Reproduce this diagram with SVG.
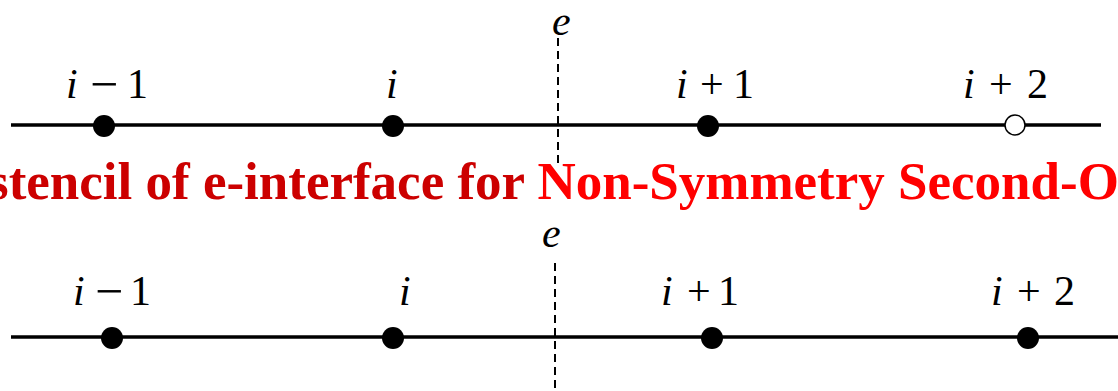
<svg xmlns="http://www.w3.org/2000/svg" width="1118" height="391" viewBox="0 0 1118 391">
<style>
.axis{stroke:#000;stroke-width:3.5;fill:none}
.dash{stroke:#000;stroke-width:2;stroke-dasharray:8 5;fill:none}
.dot{fill:#000}
.open{fill:#fff;stroke:#000;stroke-width:1.5}
.lbl{font-family:"Liberation Serif",serif;font-size:42px;fill:#000}
.it{font-style:italic}
.mn{font-size:50px}
.title{font-family:"Liberation Serif",serif;font-size:53px;font-weight:bold}
</style>
<rect width="1118" height="391" fill="#fff"/>
<g id="connectors">
  <line class="axis" x1="11" y1="125" x2="1101" y2="125"/>
  <line class="dash" x1="558" y1="38" x2="558" y2="165"/>
  <line class="axis" x1="11" y1="337" x2="1118" y2="337"/>
  <line class="dash" x1="555" y1="263" x2="555" y2="391"/>
</g>
<g id="top-e"><text class="lbl it" x="552" y="35">e</text></g>
<g id="top-im1"><circle class="dot" cx="104" cy="126" r="11"/><text class="lbl" x="66" y="98"><tspan class="it">i</tspan><tspan class="mn" x="90" y="101">−</tspan><tspan x="127" y="98">1</tspan></text></g>
<g id="top-i"><circle class="dot" cx="393" cy="126" r="11"/><text class="lbl it" x="386" y="98">i</text></g>
<g id="top-ip1"><circle class="dot" cx="708" cy="126" r="11"/><text class="lbl" x="676" y="98"><tspan class="it">i</tspan><tspan x="700">+</tspan><tspan x="733">1</tspan></text></g>
<g id="top-ip2"><circle class="open" cx="1015" cy="125" r="10"/><text class="lbl" x="963" y="98"><tspan class="it">i</tspan><tspan x="989">+</tspan><tspan x="1027">2</tspan></text></g>
<g id="title"><text class="title" x="-12" y="199"><tspan fill="#cc0000">stencil of e-interface for </tspan><tspan fill="#ff0000">Non-Symmetry Second-O</tspan></text></g>
<g id="bot-e"><text class="lbl it" x="542" y="247">e</text></g>
<g id="bot-im1"><circle class="dot" cx="112" cy="338" r="11"/><text class="lbl" x="73" y="305"><tspan class="it">i</tspan><tspan class="mn" x="95" y="308">−</tspan><tspan x="130" y="305">1</tspan></text></g>
<g id="bot-i"><circle class="dot" cx="393" cy="338" r="11"/><text class="lbl it" x="399" y="305">i</text></g>
<g id="bot-ip1"><circle class="dot" cx="712" cy="338" r="11"/><text class="lbl" x="661" y="305"><tspan class="it">i</tspan><tspan x="687">+</tspan><tspan x="718">1</tspan></text></g>
<g id="bot-ip2"><circle class="dot" cx="1028" cy="338" r="11"/><text class="lbl" x="991" y="305"><tspan class="it">i</tspan><tspan x="1017">+</tspan><tspan x="1054">2</tspan></text></g>
</svg>
